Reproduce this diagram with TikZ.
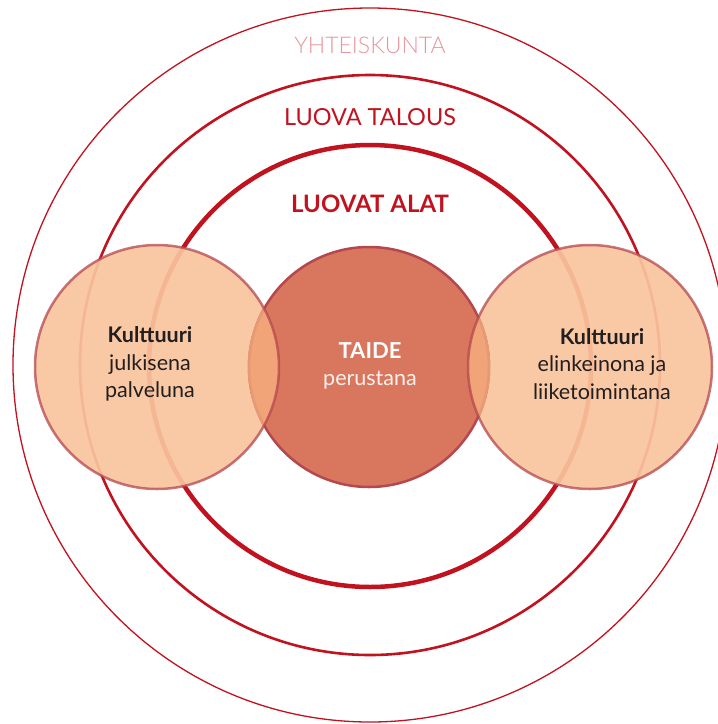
\documentclass[tikz,border=0pt]{standalone}
\usepackage{fontspec}
\setmainfont{Lato}
\newfontfamily\lightfont{Lato Light}
\definecolor{ringred}{HTML}{C1121F}
\definecolor{pinktext}{HTML}{E8959B}
\definecolor{peach}{HTML}{F9C49D}
\definecolor{lenspeach}{HTML}{F7B280}
\definecolor{rose}{HTML}{B5474F}
\definecolor{taide}{HTML}{D9775E}
\definecolor{darktext}{HTML}{231F20}

\begin{document}
\begin{tikzpicture}[x=1pt,y=1pt,
    sideedge/.style={circle,draw=rose,draw opacity=0.75,line width=2.5pt,minimum size=244pt,inner sep=0pt},
    artcircle/.style={circle,draw=rose,line width=2.5pt,fill=taide,minimum size=240pt,inner sep=0pt},
    ringlabel/.style={anchor=base,text=ringred,font=\fontsize{23.5}{28}\selectfont},
    bodytext/.style={align=center,text=darktext,font=\fontsize{21.5}{27.5}\selectfont}]
    \useasboundingbox (0,0) rectangle (718,-724);
    \clip (0,0) rectangle (718,-724);
    \coordinate (pubc) at (157,-367);
    \coordinate (artc) at (369,-367);
    \coordinate (bizc) at (590,-367);
    % Rings
    \draw[line width=1.3pt,ringred] (370,-365) circle (357pt);
    \draw[line width=2.6pt,ringred] (370,-365) circle (290pt);
    \draw[line width=4.5pt,ringred] (370,-366) circle (221pt);
    % Ring labels
    \node[ringlabel,text=pinktext,font=\fontsize{23}{28}\lightfont] (yht) at (370,-53) {YHTEISKUNTA};
    \node[ringlabel] (talous) at (370,-125) {LUOVA TALOUS};
    \node[ringlabel,font=\fontsize{24}{28}\selectfont\bfseries] (alat) at (370,-212) {LUOVAT ALAT};
    % Circles
    \fill[peach,fill opacity=0.92] (pubc) circle (122pt) (bizc) circle (122pt);
    \node[artcircle] (art) at (artc) {};
    \begin{scope}
        \clip (artc) circle (121.3pt);
        \fill[lenspeach,fill opacity=0.77] (pubc) circle (122pt) (bizc) circle (122pt);
    \end{scope}
    \node[sideedge] (pub) at (pubc) {};
    \node[sideedge] (biz) at (bizc) {};
    % Texts
    \node[bodytext] (kpub) at (150,-364) {\textbf{Kulttuuri}\\julkisena\\palveluna};
    \node[bodytext] (kbiz) at (602,-364) {\textbf{Kulttuuri}\\elinkeinona ja\\liiketoimintana};
    \node[bodytext,text=white] (taidetext) at (370,-366) {{\fontsize{22}{27}\selectfont\bfseries TAIDE}\\{\color{white!90!taide}perustana}};
\end{tikzpicture}
\end{document}
